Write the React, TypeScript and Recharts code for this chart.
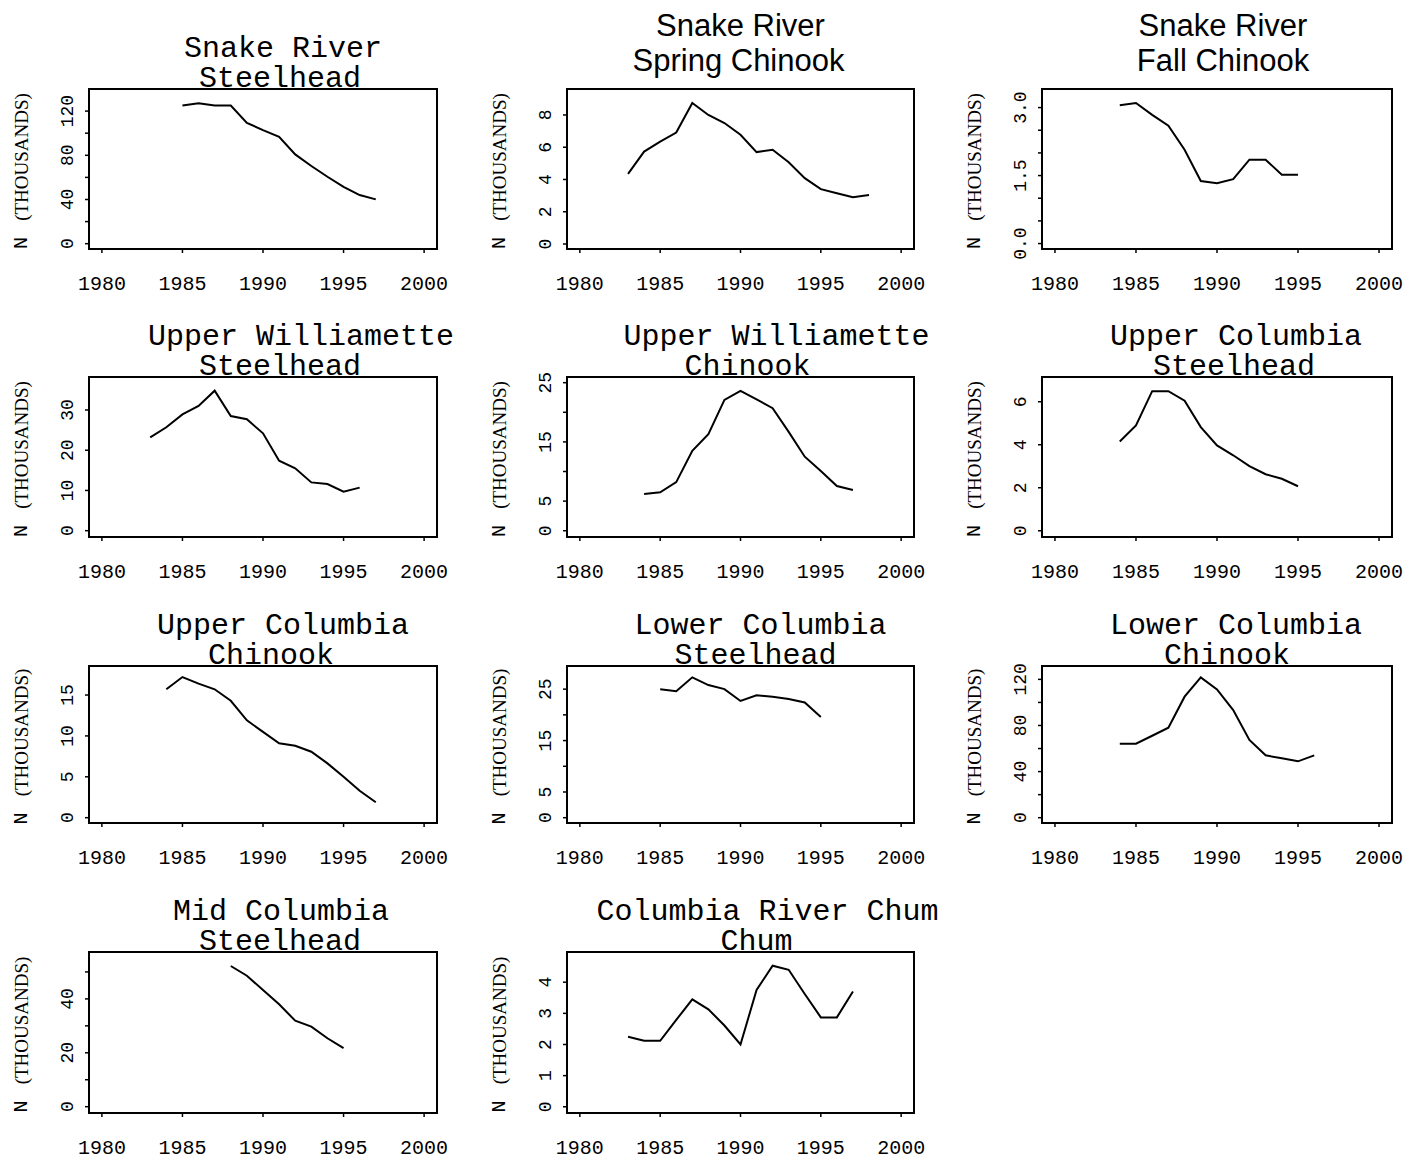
import { LineChart, Line, XAxis, YAxis } from "recharts";

const MONO = '"Liberation Mono", "Courier New", monospace';
const SERIF = '"Liberation Serif", "Times New Roman", serif';
const SANS = '"Liberation Sans", Arial, sans-serif';

// year axis shared by all panels
const yearTicks = [1980, 1985, 1990, 1995, 2000];
const yearDomain = [1979.2, 2000.8];

// Snake River Steelhead
const srSteelheadYears = [1985, 1986, 1987, 1988, 1989, 1990, 1991, 1992, 1993, 1994, 1995, 1996, 1997];
const srSteelheadN = [125, 127, 125, 125, 109.4, 102.8, 96.8, 80.8, 70.3, 60.6, 51.5, 44, 40.1];

// Snake River Spring Chinook
const srSpringYears = [1983, 1984, 1985, 1986, 1987, 1988, 1989, 1990, 1991, 1992, 1993, 1994, 1995, 1996, 1997, 1998];
const srSpringN = [4.35, 5.73, 6.35, 6.91, 8.74, 8.0, 7.5, 6.77, 5.7, 5.84, 5.07, 4.08, 3.4, 3.15, 2.9, 3.04];

// Snake River Fall Chinook
const srFallYears = [1984, 1985, 1986, 1987, 1988, 1989, 1990, 1991, 1992, 1993, 1994, 1995];
const srFallN = [3.05, 3.1, 2.84, 2.6, 2.07, 1.38, 1.33, 1.42, 1.85, 1.85, 1.52, 1.52];

// Upper Williamette Steelhead
const uwSteelheadYears = [1983, 1984, 1985, 1986, 1987, 1988, 1989, 1990, 1991, 1992, 1993, 1994, 1995, 1996];
const uwSteelheadN = [23.2, 25.7, 28.9, 31.0, 34.8, 28.5, 27.7, 24.2, 17.4, 15.5, 12.0, 11.6, 9.7, 10.7];

// Upper Williamette Chinook
const uwChinookYears = [1984, 1985, 1986, 1987, 1988, 1989, 1990, 1991, 1992, 1993, 1994, 1995, 1996, 1997];
const uwChinookN = [6.2, 6.5, 8.2, 13.5, 16.3, 22.1, 23.6, 22.2, 20.7, 16.7, 12.5, 10.1, 7.55, 6.87];

// Upper Columbia Steelhead
const ucSteelheadYears = [1984, 1985, 1986, 1987, 1988, 1989, 1990, 1991, 1992, 1993, 1994, 1995];
const ucSteelheadN = [4.15, 4.9, 6.49, 6.49, 6.05, 4.82, 3.97, 3.51, 3.01, 2.63, 2.42, 2.07];

// Upper Columbia Chinook
const ucChinookYears = [1984, 1985, 1986, 1987, 1988, 1989, 1990, 1991, 1992, 1993, 1994, 1995, 1996, 1997];
const ucChinookN = [15.7, 17.2, 16.4, 15.7, 14.3, 11.9, 10.5, 9.1, 8.8, 8.07, 6.64, 5.01, 3.3, 1.88];

// Lower Columbia Steelhead
const lcSteelheadYears = [1985, 1986, 1987, 1988, 1989, 1990, 1991, 1992, 1993, 1994, 1995];
const lcSteelheadN = [25.0, 24.6, 27.3, 25.8, 25.0, 22.7, 23.8, 23.5, 23.1, 22.4, 19.6];

// Lower Columbia Chinook
const lcChinookYears = [1984, 1985, 1986, 1987, 1988, 1989, 1990, 1991, 1992, 1993, 1994, 1995, 1996];
const lcChinookN = [64.2, 64.2, 71.1, 78.1, 105, 121.7, 111.3, 93.4, 67.4, 54.1, 51.5, 48.9, 54.1];

// Mid Columbia Steelhead
const mcSteelheadYears = [1988, 1989, 1990, 1991, 1992, 1993, 1994, 1995];
const mcSteelheadN = [52.2, 48.6, 43.3, 38.0, 31.9, 29.7, 25.4, 21.7];

// Columbia River Chum
const chumYears = [1983, 1984, 1985, 1986, 1987, 1988, 1989, 1990, 1991, 1992, 1993, 1994, 1995, 1996, 1997];
const chumN = [2.25, 2.12, 2.12, 2.79, 3.45, 3.13, 2.61, 2.0, 3.75, 4.53, 4.4, 3.62, 2.87, 2.87, 3.7];

// y ticks and which of them carry a label
const ticks0to120 = [0, 20, 40, 60, 80, 100, 120];
const labels0to120 = [0, 40, 80, 120];
const ticks0to8 = [0, 2, 4, 6, 8];
const ticks0to3 = [0, 0.5, 1, 1.5, 2, 2.5, 3];
const labels0to3 = [0, 1.5, 3];
const ticks0to30 = [0, 10, 20, 30];
const ticks0to25 = [0, 5, 10, 15, 20, 25];
const labels0to25 = [0, 5, 15, 25];
const ticks0to6 = [0, 2, 4, 6];
const ticks0to15 = [0, 5, 10, 15];
const ticks0to50 = [0, 10, 20, 30, 40, 50];
const labels0to50 = [0, 20, 40];
const ticks0to4 = [0, 1, 2, 3, 4];

// layout of the 3 x 4 grid (plot boxes, page pixels)
const COL_LEFT = [89, 567, 1042];
const COL_WIDTH = [348, 347, 350];
const ROW_TOP = [89, 377, 666, 952];
const ROW_HEIGHT = [160, 160, 157, 161];
const PAD_L = 88;
const PAD_T = 88;
const PAD_R = 40;
const PAD_B = 50;
const Y_AXIS_W = 40;
const X_AXIS_H = 30;

interface Panel {
  title: string[];
  sans?: boolean;
  titleDx: number[];
  years: number[];
  values: number[];
  yDomain: number[];
  yTicks: number[];
  yLabels: number[];
  decimals?: number;
  row: number;
  col: number;
}

const panels: Panel[] = [
  { title: ["Snake River", "Steelhead"], titleDx: [20, 17], years: srSteelheadYears, values: srSteelheadN, yDomain: [-4.8, 140], yTicks: ticks0to120, yLabels: labels0to120, row: 0, col: 0 },
  { title: ["Snake River", "Spring Chinook"], sans: true, titleDx: [0, -2], years: srSpringYears, values: srSpringN, yDomain: [-0.31, 9.61], yTicks: ticks0to8, yLabels: ticks0to8, row: 0, col: 1 },
  { title: ["Snake River", "Fall Chinook"], sans: true, titleDx: [6, 6], years: srFallYears, values: srFallN, yDomain: [-0.12, 3.41], yTicks: ticks0to3, yLabels: labels0to3, decimals: 1, row: 0, col: 2 },
  { title: ["Upper Williamette", "Steelhead"], titleDx: [38, 17], years: uwSteelheadYears, values: uwSteelheadN, yDomain: [-1.57, 38.2], yTicks: ticks0to30, yLabels: ticks0to30, row: 1, col: 0 },
  { title: ["Upper Williamette", "Chinook"], titleDx: [36, 7], years: uwChinookYears, values: uwChinookN, yDomain: [-1.06, 25.96], yTicks: ticks0to25, yLabels: labels0to25, row: 1, col: 1 },
  { title: ["Upper Columbia", "Steelhead"], titleDx: [19, 17], years: ucSteelheadYears, values: ucSteelheadN, yDomain: [-0.29, 7.15], yTicks: ticks0to6, yLabels: ticks0to6, row: 1, col: 2 },
  { title: ["Upper Columbia", "Chinook"], titleDx: [20, 8], years: ucChinookYears, values: ucChinookN, yDomain: [-0.65, 18.55], yTicks: ticks0to15, yLabels: ticks0to15, row: 2, col: 0 },
  { title: ["Lower Columbia", "Steelhead"], titleDx: [20, 15], years: lcSteelheadYears, values: lcSteelheadN, yDomain: [-1.03, 29.5], yTicks: ticks0to25, yLabels: labels0to25, row: 2, col: 1 },
  { title: ["Lower Columbia", "Chinook"], titleDx: [19, 10], years: lcChinookYears, values: lcChinookN, yDomain: [-4.6, 131.6], yTicks: ticks0to120, yLabels: labels0to120, row: 2, col: 2 },
  { title: ["Mid Columbia", "Steelhead"], titleDx: [18, 17], years: mcSteelheadYears, values: mcSteelheadN, yDomain: [-2.34, 57.4], yTicks: ticks0to50, yLabels: labels0to50, row: 3, col: 0 },
  { title: ["Columbia River Chum", "Chum"], titleDx: [27, 16], years: chumYears, values: chumN, yDomain: [-0.2, 4.97], yTicks: ticks0to4, yLabels: ticks0to4, row: 3, col: 1 },
];

const XTick = (props: any) => {
  const { x, y, payload } = props;
  return (
    <text x={x} y={y + 35} textAnchor="middle" fontFamily={MONO} fontSize={20} fill="#000">
      {payload.value}
    </text>
  );
};

function makeYTick(labels: number[], decimals: number) {
  return (props: any) => {
    const { x, y, payload } = props;
    if (!labels.some((v) => Math.abs(v - payload.value) < 1e-6)) return <g />;
    const tx = x - 15;
    return (
      <text
        x={tx}
        y={y}
        transform={`rotate(-90 ${tx} ${y})`}
        textAnchor="middle"
        dominantBaseline="central"
        fontFamily={MONO}
        fontSize={18}
        fill="#000"
      >
        {Number(payload.value).toFixed(decimals)}
      </text>
    );
  };
}

function SmallChart({ p }: { p: Panel }) {
  const w = COL_WIDTH[p.col];
  const h = ROW_HEIGHT[p.row];
  const data = p.years.map((year, i) => ({ year, n: p.values[i] }));
  const cx = PAD_L + w / 2;
  const labelY = PAD_T + h / 2 + 2;
  const titleFont = p.sans ? SANS : MONO;
  const titleSize = p.sans ? 31 : 30;
  const titleY = p.sans ? [PAD_T - 53, PAD_T - 18] : [PAD_T - 32, PAD_T - 2];

  return (
    <div
      style={{
        position: "absolute",
        left: COL_LEFT[p.col] - PAD_L,
        top: ROW_TOP[p.row] - PAD_T,
      }}
    >
      <LineChart
        width={w + PAD_L + PAD_R}
        height={h + PAD_T + PAD_B}
        data={data}
        margin={{ top: PAD_T, left: PAD_L - Y_AXIS_W, right: PAD_R, bottom: PAD_B - X_AXIS_H }}
      >
        <XAxis
          dataKey="year"
          type="number"
          domain={yearDomain}
          ticks={yearTicks}
          allowDataOverflow
          interval={0}
          height={X_AXIS_H}
          axisLine={false}
          stroke="#000"
          tickLine={{ stroke: "#000", strokeWidth: 1.5 }}
          tickSize={4}
          tick={XTick}
        />
        <YAxis
          type="number"
          domain={p.yDomain}
          ticks={p.yTicks}
          allowDataOverflow
          interval={0}
          width={Y_AXIS_W}
          axisLine={false}
          stroke="#000"
          tickLine={{ stroke: "#000", strokeWidth: 1.5 }}
          tickSize={4}
          tick={makeYTick(p.yLabels, p.decimals ?? 0)}
        />
        <Line
          type="linear"
          dataKey="n"
          stroke="#000"
          strokeWidth={2}
          dot={false}
          isAnimationActive={false}
        />
        <rect x={PAD_L} y={PAD_T} width={w} height={h} fill="none" stroke="#000" strokeWidth={2} />
        <text fontFamily={titleFont} fontSize={titleSize} fill="#000" textAnchor="middle">
          <tspan x={cx + p.titleDx[0]} y={titleY[0]}>{p.title[0]}</tspan>
          <tspan x={cx + p.titleDx[1]} y={titleY[1]}>{p.title[1]}</tspan>
        </text>
        <text
          x={PAD_L - 68}
          y={labelY}
          transform={`rotate(-90 ${PAD_L - 68} ${labelY})`}
          textAnchor="middle"
          dominantBaseline="central"
          fill="#000"
        >
          <tspan fontFamily={MONO} fontSize={20}>N</tspan>
          <tspan fontFamily={SERIF} fontSize={19} dx={16}>(THOUSANDS)</tspan>
        </text>
      </LineChart>
    </div>
  );
}

export default function App() {
  return (
    <div
      style={{
        position: "absolute",
        left: 0,
        top: 0,
        width: 1406,
        height: 1159,
        overflow: "hidden",
        background: "#fff",
      }}
    >
      {panels.map((p) => (
        <SmallChart key={p.title.join(" ")} p={p} />
      ))}
    </div>
  );
}
